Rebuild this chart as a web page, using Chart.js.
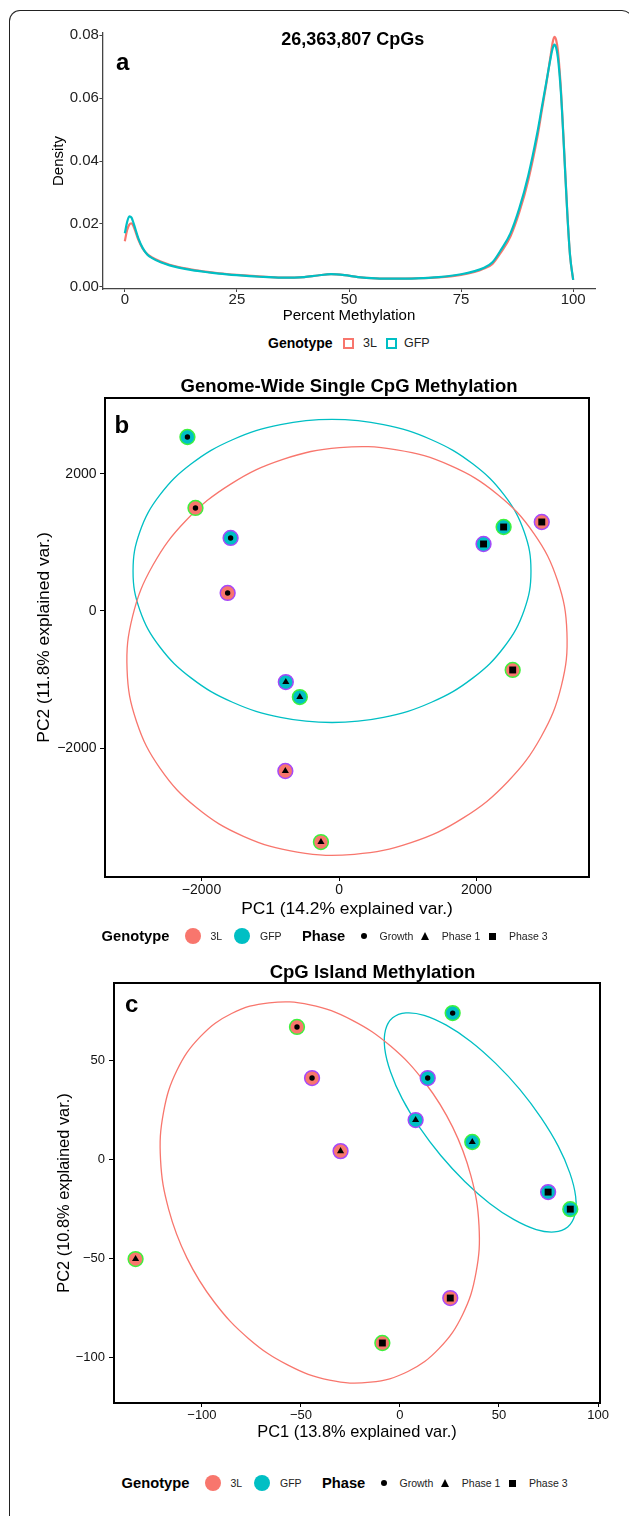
<!DOCTYPE html>
<html><head><meta charset="utf-8">
<script src="https://cdn.jsdelivr.net/npm/chart.js@4.4.0/dist/chart.umd.min.js"></script>
<style>
html,body{margin:0;padding:0;background:#fff;}
body{width:629px;height:1516px;position:relative;overflow:hidden;font-family:"Liberation Sans",Arial,Helvetica,sans-serif;color:#000;}
.abs{position:absolute;white-space:nowrap;line-height:1;}
.c{transform:translate(-50%,-50%);}
.vm{transform:translateY(-50%);}
.b{font-weight:bold;}
canvas{position:absolute;left:0;}
#frame{position:absolute;left:9px;top:10px;width:622px;height:1530px;border-top:1.3px solid #222;border-left:1.3px solid #222;border-right:1.3px solid #222;border-radius:11px 11px 0 0;}
</style></head>
<body>
<div id="frame"></div>
<canvas id="ca" width="629" height="330" style="top:0px"></canvas>
<canvas id="cb" width="629" height="540" style="top:380px"></canvas>
<canvas id="cc" width="629" height="490" style="top:960px"></canvas>
<div id="txt"></div>
<script>
// ---------- DATA ----------
const totalCpGs = '26,363,807 CpGs';
const genotypes = ['3L', 'GFP'];
const phases = ['Growth', 'Phase 1', 'Phase 3'];

// Panel a: density of percent methylation
const densX   = [0, 0.5, 1, 1.5, 2, 3, 4, 5, 6, 8, 10, 12, 15, 18, 21, 25, 30, 35, 40, 43, 46, 49, 52, 56, 60, 65, 70, 75, 78, 80, 82, 84, 86, 88, 90, 92, 93, 94, 95, 95.4, 95.8, 96.2, 96.6, 97.3, 98, 98.7, 99.3, 100];
const dens3L  = [0.0145, 0.0180, 0.0198, 0.0202, 0.0190, 0.0150, 0.0121, 0.0104, 0.0094, 0.0080, 0.0070, 0.0063, 0.0055, 0.0048, 0.0043, 0.0038, 0.0033, 0.0029, 0.0031, 0.0036, 0.0040, 0.0037, 0.0031, 0.0027, 0.0026, 0.0027, 0.0030, 0.0038, 0.0047, 0.0057, 0.0073, 0.0112, 0.0160, 0.0238, 0.0340, 0.0475, 0.0560, 0.0645, 0.0738, 0.0775, 0.0795, 0.0785, 0.0750, 0.0620, 0.0430, 0.0233, 0.0100, 0.0022];
const densGFP = [0.0170, 0.0205, 0.0224, 0.0220, 0.0200, 0.0155, 0.0123, 0.0103, 0.0092, 0.0078, 0.0068, 0.0061, 0.0053, 0.0047, 0.0042, 0.0037, 0.0032, 0.0029, 0.0031, 0.0036, 0.0040, 0.0037, 0.0031, 0.0027, 0.0026, 0.0027, 0.0031, 0.0040, 0.0050, 0.0060, 0.0078, 0.0120, 0.0170, 0.0250, 0.0355, 0.0490, 0.0570, 0.0650, 0.0730, 0.0757, 0.0770, 0.0760, 0.0728, 0.0610, 0.0425, 0.0230, 0.0100, 0.0022];
const densTicksX = [0, 25, 50, 75, 100];
const densTicksY = [0, 0.02, 0.04, 0.06, 0.08];

// Samples (shared by panels b and c)
const sampleGenotype = ['GFP','3L','GFP','3L','GFP','GFP','3L','3L','GFP','GFP','3L','3L'];
const samplePhase    = ['Growth','Growth','Growth','Growth','Phase 3','Phase 3','Phase 3','Phase 3','Phase 1','Phase 1','Phase 1','Phase 1'];
const sampleBatch    = ['A','A','B','B','B','A','B','A','B','A','B','A'];

// Panel b: genome-wide single CpG PCA
const pcaB_PC1 = [-2205, -2088, -1577, -1620, 2102, 2394, 2949, 2526, -774, -570, -781, -263];
const pcaB_PC2 = [2540, 1504, 1066, 263, 978, 1226, 1299, -861, -1037, -1256, -2336, -3373];
const ellB_3L_x  = [3178, 2833, 2302, 1622, 840, 8, -816, -1576, -2222, -2708, -3002, -3083, -2946, -2601, -2070, -1390, -608, 224, 1048, 1808, 2454, 2940, 3234, 3315];
const ellB_3L_y  = [444, 1133, 1705, 2121, 2352, 2384, 2213, 1852, 1324, 667, -75, -853, -1612, -2301, -2873, -3289, -3520, -3552, -3381, -3020, -2492, -1835, -1093, -315];
const ellB_GFP_x = [2792, 2693, 2404, 1944, 1345, 647, -102, -851, -1549, -2148, -2608, -2897, -2996, -2897, -2608, -2148, -1549, -851, -102, 647, 1345, 1944, 2404, 2693];
const ellB_GFP_y = [584, 1156, 1690, 2148, 2500, 2721, 2796, 2721, 2500, 2148, 1690, 1156, 584, 12, -522, -980, -1332, -1553, -1628, -1553, -1332, -980, -522, 12];
const ticksB_x = [-2000, 0, 2000];
const ticksB_y = [-2000, 0, 2000];

// Panel c: CpG island PCA
const pcaC_PC1 = [26.6, -52, 14, -44.4, 74.8, 86, 25.4, -8.9, 7.9, 36.5, -30, -133.5];
const pcaC_PC2 = [73.7, 66.7, 40.9, 40.9, -16.7, -25.3, -70.2, -92.9, 19.7, 8.6, 4, -50.5];
const ellC_3L_x  = [4.0, 19.8, 31.6, 38.4, 39.9, 35.8, 26.6, 12.8, -4.6, -24.5, -45.4, -66.1, -85.0, -100.8, -112.6, -119.4, -120.9, -116.8, -107.6, -93.8, -76.4, -56.5, -35.6, -14.9];
const ellC_3L_y  = [-107.3, -95.6, -78.6, -57.4, -33.5, -8.4, 16.1, 38.4, 56.9, 70.3, 77.9, 78.9, 73.5, 61.8, 44.8, 23.6, -0.3, -25.4, -49.9, -72.2, -90.7, -104.1, -111.7, -112.7];
const ellC_GFP_x = [84.7, 88.3, 88.7, 85.8, 79.9, 71.2, 60.5, 48.3, 35.7, 23.4, 12.2, 3.0, -3.7, -7.3, -7.7, -4.8, 1.1, 9.8, 20.6, 32.7, 45.3, 57.6, 68.8, 78.0];
const ellC_GFP_y = [-34.3, -28.2, -18.9, -7.1, 6.5, 20.9, 35.2, 48.3, 59.4, 67.6, 72.6, 73.8, 71.3, 65.2, 55.9, 44.1, 30.5, 16.1, 1.8, -11.3, -22.4, -30.6, -35.6, -36.8];
const ticksC_x = [-100, -50, 0, 50, 100];
const ticksC_y = [-100, -50, 0, 50];

// ---------- STYLE ----------
const COL = {'3L': '#F8766D', 'GFP': '#00BFC4'};
const BATCH_COL = {'A': '#3DF23D', 'B': '#A548FA'};
const SHAPE = {'Growth': 'circle', 'Phase 1': 'triangle', 'Phase 3': 'rect'};
const SHAPE_R = {'Growth': 2.7, 'Phase 1': 4.1, 'Phase 3': 4.9};
const FONT = '"Liberation Sans", Arial, Helvetica, sans-serif';
Chart.defaults.font.family = FONT;
Chart.defaults.color = '#000';
Chart.defaults.animation = false;

const framePlugin = {
  id: 'frame',
  afterDatasetsDraw(chart, args, o) {
    if (!o || !o.on) return;
    const {ctx, chartArea: a} = chart;
    ctx.save();
    ctx.strokeStyle = '#000';
    ctx.lineWidth = o.w;
    ctx.strokeRect(a.left, a.top, a.right - a.left, a.bottom - a.top);
    ctx.restore();
  }
};
// closes ellipse outlines smoothly (Chart.js line loop, as used by radar charts)
function markLoops(chart) {
  chart.data.datasets.forEach((ds, i) => {
    if (!ds.closedLoop) return;
    const line = chart.getDatasetMeta(i).dataset;
    if (!line) return;
    line._loop = true;
    line._fullLoop = true;
    line._pointsUpdated = false;
    delete line._segments;
    delete line._path;
    if (typeof line.updateControlPoints === 'function') line.updateControlPoints(chart.chartArea, 'x');
  });
}
const loopPlugin = {
  id: 'closedLoop',
  afterDatasetsUpdate(chart) { markLoops(chart); },
  beforeDatasetsDraw(chart) { markLoops(chart); }
};
const minusFmt = v => v < 0 ? '\u2212' + Math.abs(v) : String(v);
const pts = (xs, ys) => xs.map((x, i) => ({x: x, y: ys[i]}));

// ---------- PANEL A ----------
new Chart(document.getElementById('ca'), {
  type: 'scatter',
  data: { datasets: [
    { label: '3L', data: pts(densX, dens3L), showLine: true, borderColor: COL['3L'], borderWidth: 2.2, pointRadius: 0, cubicInterpolationMode: 'monotone', order: 2 },
    { label: 'GFP', data: pts(densX, densGFP), showLine: true, borderColor: COL['GFP'], borderWidth: 2.2, pointRadius: 0, cubicInterpolationMode: 'monotone', order: 1 }
  ]},
  options: {
    responsive: false, devicePixelRatio: 1, events: [],
    layout: { padding: {top: 33, right: 33.4, left: 0, bottom: 0} },
    plugins: { legend: {display: false}, tooltip: {enabled: false} },
    scales: {
      x: { type: 'linear', min: -5, max: 105,
        afterBuildTicks: s => { s.ticks = densTicksX.map(v => ({value: v})); },
        afterFit: s => { s.height = 41; },
        ticks: { font: {size: 15, lineHeight: 1}, color: '#222', padding: 0.7, autoSkip: false, maxRotation: 0 },
        grid: { drawOnChartArea: false, drawTicks: true, tickLength: 3, color: '#444', lineWidth: 1 },
        border: { display: true, color: '#444', width: 1.3 },
        title: { display: true, text: 'Percent Methylation', font: {size: 15}, color: '#000', padding: {top: 0, bottom: 5} } },
      y: { type: 'linear', min: -0.0007, max: 0.0807,
        afterBuildTicks: s => { s.ticks = densTicksY.map(v => ({value: v})); },
        afterFit: s => { s.width = 102.4; },
        ticks: { font: {size: 15, lineHeight: 1}, color: '#222', padding: 0.5, callback: v => v.toFixed(2) },
        grid: { drawOnChartArea: false, drawTicks: true, tickLength: 3, color: '#444', lineWidth: 1 },
        border: { display: true, color: '#444', width: 1.3 },
        title: { display: true, text: 'Density', font: {size: 15}, color: '#000', padding: {top: 49.5, bottom: 0} } }
    }
  }
});

// ---------- PCA PANELS ----------
function pcaChart(id, xs, ys, ellipses, cfg) {
  const datasets = ellipses.map(e => ({
    data: pts(e.x, e.y), showLine: true, borderColor: COL[e.g], borderWidth: 1.3,
    pointRadius: 0, tension: 0.4, order: 3, closedLoop: true
  }));
  datasets.push({
    data: pts(xs, ys), order: 2, pointStyle: 'circle', pointRadius: 7.4,
    backgroundColor: sampleGenotype.map(g => COL[g]),
    borderColor: sampleBatch.map(b => BATCH_COL[b]), borderWidth: 1.5
  });
  datasets.push({
    data: pts(xs, ys), order: 1,
    pointStyle: samplePhase.map(p => SHAPE[p]),
    pointRadius: samplePhase.map(p => SHAPE_R[p]),
    backgroundColor: '#000', borderColor: '#000', borderWidth: 0
  });
  const tickOpts = size => ({ font: {size: size, lineHeight: 1}, color: '#111', autoSkip: false, maxRotation: 0, callback: minusFmt });
  return new Chart(document.getElementById(id), {
    type: 'scatter',
    data: { datasets: datasets },
    plugins: [loopPlugin, framePlugin],
    options: {
      responsive: false, devicePixelRatio: 1, events: [],
      layout: { padding: cfg.pad },
      plugins: { legend: {display: false}, tooltip: {enabled: false}, frame: {on: true, w: 2} },
      scales: {
        x: { type: 'linear', min: cfg.xr[0], max: cfg.xr[1],
          afterBuildTicks: s => { s.ticks = cfg.tx.map(v => ({value: v})); },
          afterFit: s => { s.height = cfg.xh; },
          ticks: Object.assign(tickOpts(cfg.tick), {padding: cfg.xpad}),
          grid: { drawOnChartArea: false, drawTicks: true, tickLength: 4, color: '#000', lineWidth: 1 },
          border: { display: false },
          title: { display: true, text: cfg.xt, font: {size: cfg.tf}, color: '#000', padding: {top: 0, bottom: cfg.xtpb} } },
        y: { type: 'linear', min: cfg.yr[0], max: cfg.yr[1],
          afterBuildTicks: s => { s.ticks = cfg.ty.map(v => ({value: v})); },
          afterFit: s => { s.width = cfg.yw; },
          ticks: Object.assign(tickOpts(cfg.tick), {padding: cfg.ypad}),
          grid: { drawOnChartArea: false, drawTicks: true, tickLength: 5, color: '#000', lineWidth: 1 },
          border: { display: false },
          title: { display: true, text: cfg.yt, font: {size: cfg.tf}, color: '#000', padding: {top: cfg.ytpt, bottom: 0} } }
      }
    }
  });
}

pcaChart('cb', pcaB_PC1, pcaB_PC2,
  [{g: '3L', x: ellB_3L_x, y: ellB_3L_y}, {g: 'GFP', x: ellB_GFP_x, y: ellB_GFP_y}],
  { pad: {top: 18, right: 40, left: 0, bottom: 0}, xr: [-3404, 3636], yr: [-3883, 3109],
    tx: ticksB_x, ty: ticksB_y, xh: 43, yw: 105, tick: 14, xpad: 2, ypad: 3.5, tf: 17.4,
    xt: 'PC1 (14.2% explained var.)', yt: 'PC2 (11.8% explained var.)', xtpb: 0.6, ytpt: 33.6 });

pcaChart('cc', pcaC_PC1, pcaC_PC2,
  [{g: '3L', x: ellC_3L_x, y: ellC_3L_y}, {g: 'GFP', x: ellC_GFP_x, y: ellC_GFP_y}],
  { pad: {top: 23, right: 29, left: 0, bottom: 0}, xr: [-144.4, 101], yr: [-123.2, 88.9],
    tx: ticksC_x, ty: ticksC_y, xh: 47, yw: 114, tick: 13, xpad: 1.5, ypad: 4, tf: 16.4,
    xt: 'PC1 (13.8% explained var.)', yt: 'PC2 (10.8% explained var.)', xtpb: 7.2, ytpt: 54.2 });

// ---------- TEXT, LABELS, LEGENDS ----------
const T = document.getElementById('txt');
function el(html, style, cls) {
  const d = document.createElement('div');
  d.className = 'abs ' + (cls || '');
  d.setAttribute('style', style);
  d.innerHTML = html;
  T.appendChild(d);
  return d;
}
el(totalCpGs, 'left:352.7px;top:38.5px;font-size:18px;', 'c b');
el('a', 'left:116px;top:49.7px;font-size:24px;', 'b');
el('Genome-Wide Single CpG Methylation', 'left:349px;top:386px;font-size:18.5px;', 'c b');
el('b', 'left:114.5px;top:412.7px;font-size:24px;', 'b');
el('CpG Island Methylation', 'left:372.5px;top:972px;font-size:18.5px;', 'c b');
el('c', 'left:125px;top:991.7px;font-size:24px;', 'b');

// legend a (line keys)
(function () {
  const y = 343;
  el('Genotype', `left:268px;top:${y}px;font-size:14px;`, 'vm b');
  const keyX = [343, 385.5], labX = [363, 404];
  genotypes.forEach((g, i) => {
    el('', `left:${keyX[i]}px;top:${y - 5.5}px;width:11px;height:11px;box-sizing:border-box;border:2px solid ${COL[g]};`);
    el(g, `left:${labX[i]}px;top:${y}px;font-size:12.5px;color:#222;`, 'vm');
  });
})();

// legends b and c (point keys)
function pcaLegend(dx, y) {
  el('Genotype', `left:${101.6 + dx}px;top:${y}px;font-size:14.7px;`, 'vm b');
  const gKey = [192.8, 242], gLab = [210.4, 260];
  genotypes.forEach((g, i) => {
    el('', `left:${gKey[i] + dx - 8}px;top:${y - 8}px;width:16px;height:16px;border-radius:50%;background:${COL[g]};`);
    el(g, `left:${gLab[i] + dx}px;top:${y}px;font-size:10.5px;color:#222;`, 'vm');
  });
  el('Phase', `left:${302 + dx}px;top:${y}px;font-size:14.7px;`, 'vm b');
  const pKey = [364, 425.7, 492.8], pLab = [379.5, 441.8, 509];
  phases.forEach((p, i) => {
    const cx = pKey[i] + dx;
    if (SHAPE[p] === 'circle') el('', `left:${cx - 3}px;top:${y - 3}px;width:6px;height:6px;border-radius:50%;background:#000;`);
    else if (SHAPE[p] === 'triangle') el('', `left:${cx - 4.5}px;top:${y - 4.5}px;width:0;height:0;border-left:4.5px solid transparent;border-right:4.5px solid transparent;border-bottom:8px solid #000;`);
    else el('', `left:${cx - 3.5}px;top:${y - 3.5}px;width:7px;height:7px;background:#000;`);
    el(p, `left:${pLab[i] + dx}px;top:${y}px;font-size:10.5px;color:#222;`, 'vm');
  });
}
pcaLegend(0, 936);
pcaLegend(20, 1483);
</script>
</body></html>
